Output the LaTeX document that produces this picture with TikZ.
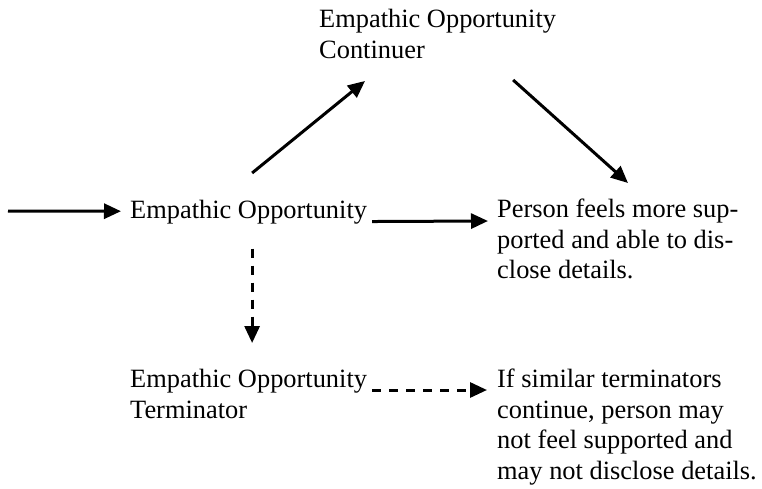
\documentclass[tikz,border=0pt]{standalone}
\usepackage{fontspec}
\setmainfont{Liberation Serif}
\usetikzlibrary{arrows.meta,calc}
\begin{document}
\begin{tikzpicture}[x=1pt,y=-1pt,
  txt/.style={anchor=north west,inner sep=0pt,align=left,
    font=\fontsize{26.4}{30.5}\selectfont},
  arr/.style={line width=3pt,-{Triangle[length=17pt,width=15pt]}},
  darr/.style={arr,dash pattern=on 9pt off 8pt}]
\useasboundingbox (0,0) rectangle (762,488);
\node[txt] (top)  at (319,9)   {Empathic Opportunity\\Continuer};
\node[txt] (mid)  at (130,200) {Empathic Opportunity};
\node[txt] (pers) at (497,199) {Person feels more sup-\\ported and able to dis-\\close details.};
\node[txt] (term) at (130,369) {Empathic Opportunity\\Terminator};
\node[txt] (ifs)  at (497,369) {If similar terminators\\continue, person may\\not feel supported and\\may not disclose details.};
\coordinate (in) at (8,211);
\draw[arr] (in) -- ($(mid.west)+(-9,-1)$);
\draw[arr] ($(mid.north)+(3.5,-27)$) -- ($(top.south west)+(46,22.5)$);
\draw[arr] ($(top.south)+(75.5,21.5)$) -- ($(pers.north west)+(131,-16)$);
\draw[arr] ($(mid.base east)+(5,3)$) -- ($(pers.north west)+(-9,22)$);
\draw[darr] ($(mid.south)+(3.5,24.3)$) -- ($(term.north)+(3.5,-26)$);
\draw[darr] ($(term.north east)+(5,21)$) -- ($(ifs.north west)+(-10,21)$);
\end{tikzpicture}
\end{document}
